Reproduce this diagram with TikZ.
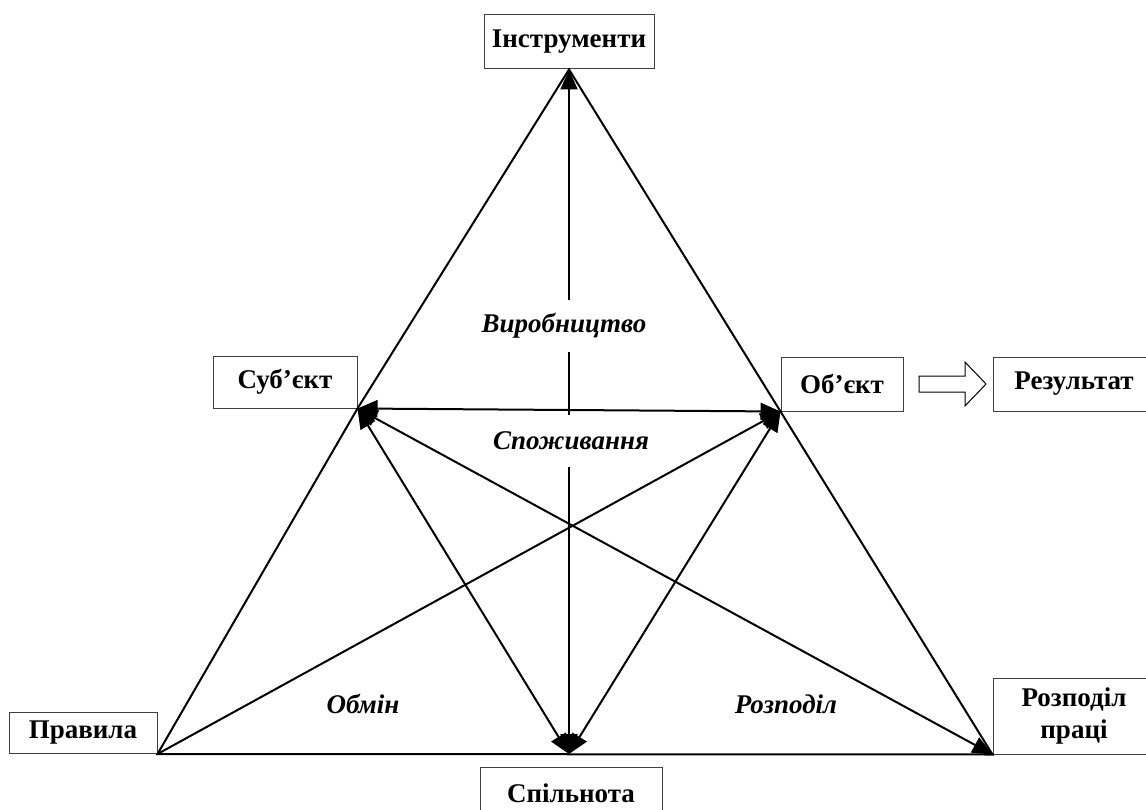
\documentclass[tikz,border=0pt]{standalone}
\usepackage{fontspec}
\setmainfont{Liberation Serif}
\usetikzlibrary{calc,arrows.meta}

\begin{document}
\begin{tikzpicture}[x=1pt,y=-1pt,
    box/.style={draw=black!75, line width=1pt, fill=white, align=center, inner sep=0pt, font=\fontsize{27}{32}\selectfont\bfseries},
    act/.style={fill=white, inner xsep=2pt, inner ysep=0pt, font=\fontsize{27}{32}\selectfont\bfseries\itshape},
    link/.style={line width=2pt, >={Triangle[length=20pt,width=17pt]}}]
        \useasboundingbox (0,0) rectangle (1146,810);
        \clip (0,0) rectangle (1146,810);
        % boxes
        \node[box, minimum width=170pt, minimum height=54pt](instr) at (569,42) {Інструменти};
        \node[box, minimum width=144pt, minimum height=52pt](subj) at (285,382) {Суб’єкт};
        \node[box, minimum width=122pt, minimum height=54pt](obj) at (842,384) {Об’єкт};
        \node[box, minimum width=162pt, minimum height=54pt](res) at (1074,384) {Результат};
        \node[box, minimum width=148pt, minimum height=41pt](rul) at (83,733) {Правила};
        \node[box, minimum width=182pt, minimum height=52pt](comm) at (571,793) {Спільнота};
        \node[box, minimum width=162pt, minimum height=76pt](lab) at (1074,716) {Розподіл\\праці};
        % corners
        \coordinate (apex) at (instr.south);
        \coordinate (subpt) at (subj.south east);
        \coordinate (objpt) at (obj.south west);
        \coordinate (rulpt) at (rul.south east);
        \coordinate (labpt) at (lab.south west);
        \coordinate (compt) at (apex |- rulpt);
        % triangle
        \path[draw, link, line join=miter](rulpt)--(subpt)--(apex)--(objpt)--(labpt)--cycle;
        % axis of production
        \path[draw, link, <->](apex)to(compt);
        \node[act, minimum height=51pt](prod) at (564,326) {Виробництво};
        \node[act, minimum height=52pt](cons) at (571,441) {Споживання};
        \node[font=\fontsize{27}{32}\selectfont\bfseries\itshape](exch) at (363,704) {Обмін};
        \node[font=\fontsize{27}{32}\selectfont\bfseries\itshape](distr) at (786,704) {Розподіл};
        % links
        \path[draw, link, <->](subpt)to(objpt);
        \path[draw, link, ->](rulpt)to(objpt);
        \path[draw, link, <->](subpt)to(labpt);
        \path[draw, link, <->](subpt)to(compt);
        \path[draw, link, <->](objpt)to(compt);
        % result arrow
        \coordinate (ba) at ($(obj.east)!0.5!(res.west)$);
        \path[draw, line width=1pt]($(ba)+(-29,-8)$)--++(46,0)--++(0,-14)--++(21,22)--++(-21,22)--++(0,-14)--++(-46,0)--cycle;
    \end{tikzpicture}
\end{document}
